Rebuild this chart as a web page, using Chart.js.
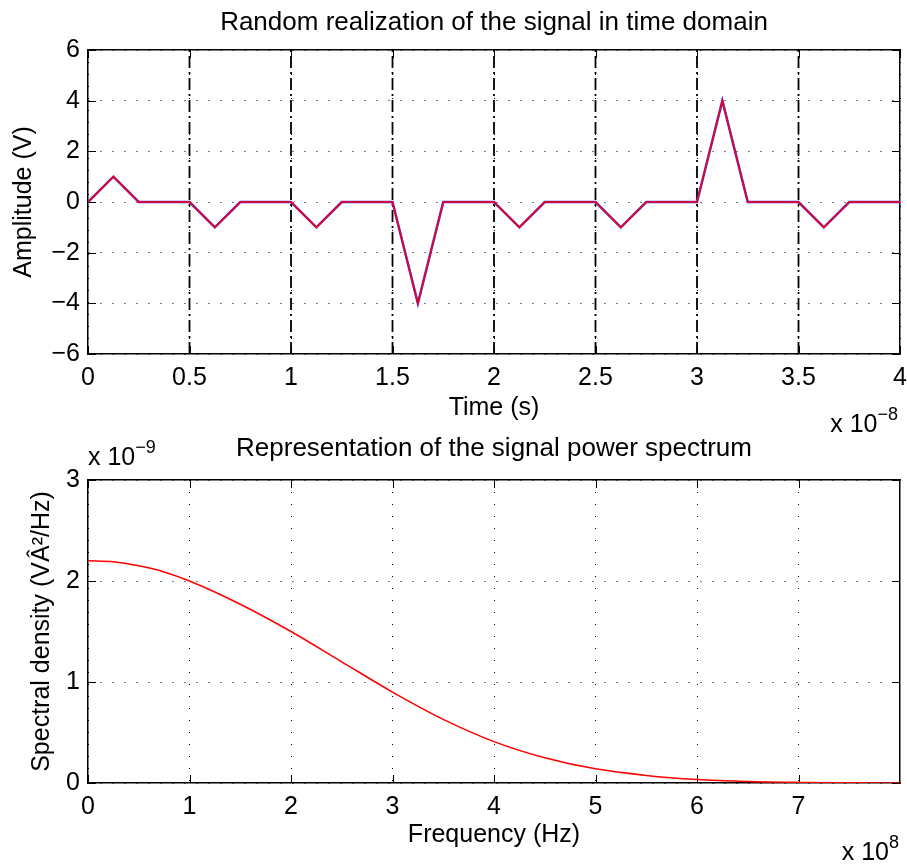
<!DOCTYPE html>
<html><head><meta charset="utf-8">
<script src="https://cdn.jsdelivr.net/npm/chart.js@4.4.1/dist/chart.umd.min.js"></script>
<style>
html,body{margin:0;padding:0;background:#fff;}
#wrap{position:relative;width:907px;height:865px;overflow:hidden;font-family:"Liberation Sans",Arial,sans-serif;background:#fff;}
canvas{position:absolute;left:0;}
#c1{top:0;}
#c2{top:432px;}
.exp{position:absolute;font-size:25px;line-height:25px;color:#000;white-space:nowrap;}
.exp sup{font-size:18px;vertical-align:baseline;position:relative;top:-12px;}
</style></head>
<body><div id="wrap">
<canvas id="c1" width="907" height="432" style="width:907px;height:432px"></canvas>
<canvas id="c2" width="907" height="433" style="width:907px;height:433px"></canvas>
<div class="exp" style="right:9px;top:411px">x 10<sup>−8</sup></div>
<div class="exp" style="left:88px;top:444px">x 10<sup>−9</sup></div>
<div class="exp" style="right:8px;top:839px">x 10<sup>8</sup></div>
</div>
<script>
// ---- Top plot data (time in units of 1e-8 s, amplitude in V) ----
const timeAxis  = [0,0.125,0.25,0.5,0.625,0.75,1,1.125,1.25,1.5,1.625,1.75,2,2.125,2.25,2.5,2.625,2.75,3,3.125,3.25,3.5,3.625,3.75,4];
const amplitude = [0,1,0,0,-1,0,0,-1,0,0,-4,0,0,-1,0,0,-1,0,0,4,0,0,-1,0,0];
const symbolBoundaries = [0.5,1,1.5,2,2.5,3,3.5,4];
const timeTicks = [0,0.5,1,1.5,2,2.5,3,3.5,4];
const ampTicks  = [-6,-4,-2,0,2,4,6];

// ---- Bottom plot data (frequency in units of 1e8 Hz, density in units of 1e-9) ----
const frequency = [0,0.25,0.5,0.75,1,1.5,2,2.5,3,3.5,4,4.5,5,5.5,6,6.5,7,7.5,8];
const density   = [2.2,2.19,2.15,2.09,2.0,1.77,1.5,1.2,0.9,0.63,0.41,0.25,0.14,0.075,0.035,0.015,0.006,0.002,0];
const freqTicks = [0,1,2,3,4,5,6,7];
const densTicks = [0,1,2,3];

const FONT = "'Liberation Sans', Arial, sans-serif";
const fmt = v => String(v).replace('-', '\u2212');

const tickMarks = {
  id: 'tickMarks',
  beforeDatasetsDraw(chart) {
    const {ctx, chartArea: {left, right, top, bottom}, scales: {x, y}} = chart;
    ctx.save();
    ctx.strokeStyle = '#000'; ctx.lineWidth = 1; ctx.setLineDash([]);
    ctx.beginPath();
    x.ticks.forEach(t => { const p = Math.round(x.getPixelForValue(t.value)) + 0.5;
      ctx.moveTo(p, bottom); ctx.lineTo(p, bottom - 8); ctx.moveTo(p, top); ctx.lineTo(p, top + 8); });
    y.ticks.forEach(t => { const p = Math.round(y.getPixelForValue(t.value)) + 0.5;
      ctx.moveTo(left, p); ctx.lineTo(left + 8, p); ctx.moveTo(right, p); ctx.lineTo(right - 8, p); });
    ctx.stroke();
    ctx.restore();
  }
};

function mainX(min, max, ticksArr, title, height, titlePadBottom) {
  return {
    type: 'linear', position: 'bottom', min, max,
    afterBuildTicks: s => { s.ticks = ticksArr.map(v => ({value: v})); },
    afterFit: s => { s.height = height; s.paddingLeft = 0; s.paddingRight = 0; },
    grid: {color: '#000', lineWidth: 1, drawTicks: false, borderDash: [1, 11]},
    border: {display: true, color: '#000', width: 1.5, dash: [1, 11]},
    ticks: {color: '#000', font: {family: FONT, size: 25}, padding: 9, maxRotation: 0, autoSkip: false, callback: v => fmt(v)},
    title: {display: true, text: title, color: '#000', font: {family: FONT, size: 25}, padding: {top: 0, bottom: titlePadBottom}}
  };
}
function mainY(min, max, ticksArr, title, titlePadTop) {
  return {
    type: 'linear', position: 'left', min, max,
    afterBuildTicks: s => { s.ticks = ticksArr.map(v => ({value: v})); },
    afterFit: s => { s.width = 88; s.paddingTop = 0; s.paddingBottom = 0; },
    grid: {color: '#000', lineWidth: 1, drawTicks: false, borderDash: [1, 11]},
    border: {display: true, color: '#000', width: 1.5, dash: [1, 11]},
    ticks: {color: '#000', font: {family: FONT, size: 25}, padding: 8, autoSkip: false, callback: v => fmt(v)},
    title: {display: true, text: title, color: '#000', font: {family: FONT, size: 25}, padding: {top: titlePadTop, bottom: 0}}
  };
}
function topAxis(min, max, title, height, padTop) {
  return {
    type: 'linear', position: 'top', min, max,
    afterFit: s => { s.height = height; s.paddingLeft = 0; s.paddingRight = 0; },
    grid: {display: false, drawTicks: false},
    border: {display: true, color: '#000', width: 1.5},
    ticks: {display: false},
    title: {display: true, text: title, color: '#000', font: {family: FONT, size: 26}, padding: {top: padTop, bottom: 0}}
  };
}
function rightAxis(min, max) {
  return {
    type: 'linear', position: 'right', min, max,
    afterFit: s => { s.width = 7; s.paddingTop = 0; s.paddingBottom = 0; },
    grid: {display: false, drawTicks: false},
    border: {display: true, color: '#000', width: 1.5},
    ticks: {display: false}
  };
}

const pts = (xs, ys) => xs.map((v, i) => ({x: v, y: ys[i]}));

const boundaryDatasets = symbolBoundaries.map(b => ({
  data: [{x: b, y: ampTicks[0]}, {x: b, y: ampTicks[ampTicks.length - 1]}],
  borderColor: '#000', borderWidth: 1.8, borderDash: [12, 4, 2, 4],
  pointRadius: 0, order: 3
}));

new Chart(document.getElementById('c1'), {
  type: 'line',
  data: {datasets: [
    {data: pts(timeAxis, amplitude), borderColor: '#ff0000', borderWidth: 1.5, pointRadius: 0, order: 0},
    {data: pts(timeAxis, amplitude), borderColor: '#3030ff', borderWidth: 2.5, pointRadius: 0, order: 1},
    ...boundaryDatasets
  ]},
  options: {
    responsive: false, animation: false, devicePixelRatio: 1,
    layout: {padding: 0},
    plugins: {legend: {display: false}, tooltip: {enabled: false}, title: {display: false}},
    scales: {
      x: mainX(timeTicks[0], timeTicks[timeTicks.length - 1], timeTicks, 'Time (s)', 78, 9),
      y: mainY(ampTicks[0], ampTicks[ampTicks.length - 1], ampTicks, 'Amplitude (V)', 9),
      xTop: topAxis(timeTicks[0], timeTicks[timeTicks.length - 1], 'Random realization of the signal in time domain', 50, 7),
      yRight: rightAxis(ampTicks[0], ampTicks[ampTicks.length - 1])
    }
  },
  plugins: [tickMarks]
});

new Chart(document.getElementById('c2'), {
  type: 'line',
  data: {datasets: [
    {data: pts(frequency, density), borderColor: '#ff0000', borderWidth: 1.5, pointRadius: 0, cubicInterpolationMode: 'monotone'}
  ]},
  options: {
    responsive: false, animation: false, devicePixelRatio: 1,
    layout: {padding: 0},
    plugins: {legend: {display: false}, tooltip: {enabled: false}, title: {display: false}},
    scales: {
      x: mainX(frequency[0], frequency[frequency.length - 1], freqTicks, 'Frequency (Hz)', 82, 15),
      y: mainY(densTicks[0], densTicks[densTicks.length - 1], densTicks, 'Spectral density (VÂ²/Hz)', 27),
      xTop: topAxis(frequency[0], frequency[frequency.length - 1], 'Representation of the signal power spectrum', 48, 1),
      yRight: rightAxis(densTicks[0], densTicks[densTicks.length - 1])
    }
  },
  plugins: [tickMarks]
});
</script>
</body></html>
